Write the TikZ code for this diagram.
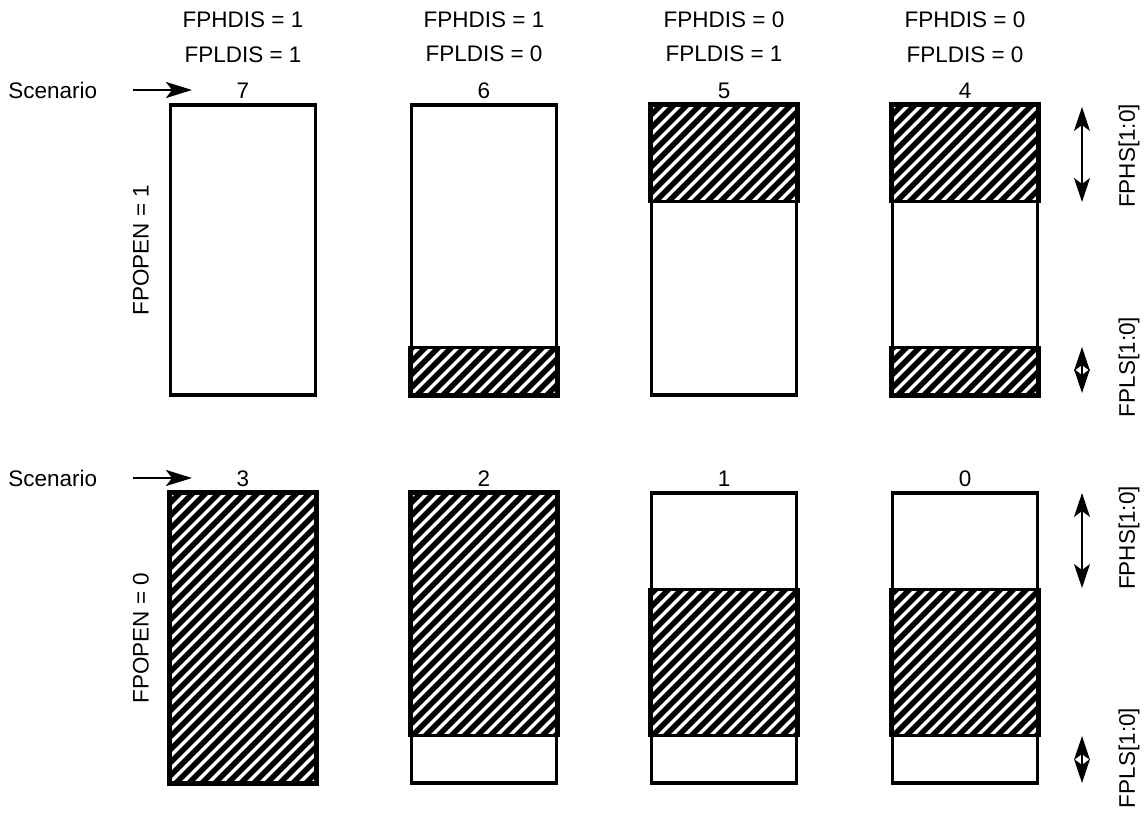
\documentclass[tikz,border=0pt]{standalone}
\usepackage{fontspec}
\setmainfont{Liberation Sans}
\usepackage{tikz}
\usetikzlibrary{positioning,calc,arrows.meta}

% hatched band of a box: node, from (fraction), to (fraction)
\newcommand{\hatchband}[3]{%
  \begin{scope}
    \clip ($(#1.north west)!#2!(#1.south west)$) rectangle ($(#1.north east)!#3!(#1.south east)$);
    \foreach \k in {-16,...,16}
      \draw[stripe] (#1.center) ++(\k*13-200,200) -- ++(400,-400);
  \end{scope}
  \draw[part] ($(#1.north west)!#2!(#1.south west)$) rectangle ($(#1.north east)!#3!(#1.south east)$);
}

\begin{document}
\begin{tikzpicture}[
    x=0.025cm, y=-0.025cm,
    txt/.style={font=\fontsize{16}{19}\selectfont, inner sep=0pt},
    box/.style={rectangle, draw, line width=2.2pt, minimum width=3.625cm, minimum height=7.25cm, inner sep=0pt},
    part/.style={line width=2.2pt},
    stripe/.style={line width=0.135cm},
    arrow/.style={-{Stealth[length=0.65cm, width=0.4cm, inset=0.15cm]}, line width=1.5pt},
    both/.style={{Stealth[length=0.6cm, width=0.4cm, inset=0.15cm]}-{Stealth[length=0.6cm, width=0.4cm, inset=0.15cm]}, line width=1.1pt}
]
    \useasboundingbox (0,0) rectangle (1146,814);

    % Boxes
    \node[box] (b7) at (243,250) {};
    \node[box] (b6) at (484,250) {};
    \node[box] (b5) at (724,250) {};
    \node[box] (b4) at (965,250) {};
    \node[box] (b3) at (243,638) {};
    \node[box] (b2) at (484,638) {};
    \node[box] (b1) at (724,638) {};
    \node[box] (b0) at (965,638) {};

    % Hatching
    \hatchband{b6}{5/6}{1}
    \hatchband{b5}{0}{1/3}
    \hatchband{b4}{0}{1/3}
    \hatchband{b4}{5/6}{1}
    \hatchband{b3}{0}{1}
    \hatchband{b2}{0}{5/6}
    \hatchband{b1}{1/3}{5/6}
    \hatchband{b0}{1/3}{5/6}

    % Scenario numbers
    \node[txt, above=0.12cm of b7] (n7) {7};
    \node[txt, above=0.12cm of b6] (n6) {6};
    \node[txt, above=0.12cm of b5] (n5) {5};
    \node[txt, above=0.12cm of b4] (n4) {4};
    \node[txt, above=0.12cm of b3] (n3) {3};
    \node[txt, above=0.12cm of b2] (n2) {2};
    \node[txt, above=0.12cm of b1] (n1) {1};
    \node[txt, above=0.12cm of b0] (n0) {0};

    % Headers
    \node[txt, above=0.5cm of n7] (l7) {FPLDIS = 1};
    \node[txt, above=0.45cm of l7] (h7) {FPHDIS = 1};
    \node[txt, above=0.5cm of n6] (l6) {FPLDIS = 0};
    \node[txt, above=0.45cm of l6] (h6) {FPHDIS = 1};
    \node[txt, above=0.5cm of n5] (l5) {FPLDIS = 1};
    \node[txt, above=0.45cm of l5] (h5) {FPHDIS = 0};
    \node[txt, above=0.5cm of n4] (l4) {FPLDIS = 0};
    \node[txt, above=0.45cm of l4] (h4) {FPHDIS = 0};

    % Left labels
    \node[txt, anchor=west] (sc1) at (8,90) {Scenario};
    \node[txt, anchor=west] (sc2) at (8,478) {Scenario};
    \coordinate (tip1) at (192,90);
    \coordinate (tip2) at (192,478);
    \node[txt, rotate=90] (open1) at (141,250) {FPOPEN = 1};
    \node[txt, rotate=90] (open0) at (141,638) {FPOPEN = 0};

    % Right labels
    \coordinate (hs1a) at (1082,107);
    \coordinate (hs1b) at (1082,202);
    \coordinate (ls1a) at (1082,347);
    \coordinate (ls1b) at (1082,393);
    \coordinate (hs0a) at (1082,493);
    \coordinate (hs0b) at (1082,588);
    \coordinate (ls0a) at (1082,736);
    \coordinate (ls0b) at (1082,783);
    \node[txt, rotate=90] (fphs1) at (1129,156) {FPHS[1:0]};
    \node[txt, rotate=90] (fpls1) at (1129,367) {FPLS[1:0]};
    \node[txt, rotate=90] (fphs0) at (1129,538) {FPHS[1:0]};
    \node[txt, rotate=90] (fpls0) at (1129,758) {FPLS[1:0]};

    % Arrows
    \draw[arrow, shorten <=0.9cm] (sc1) -- (tip1);
    \draw[arrow, shorten <=0.9cm] (sc2) -- (tip2);
    \draw[both] (hs1a) -- (hs1b);
    \draw[both] (ls1a) -- (ls1b);
    \draw[both] (hs0a) -- (hs0b);
    \draw[both] (ls0a) -- (ls0b);
\end{tikzpicture}
\end{document}
